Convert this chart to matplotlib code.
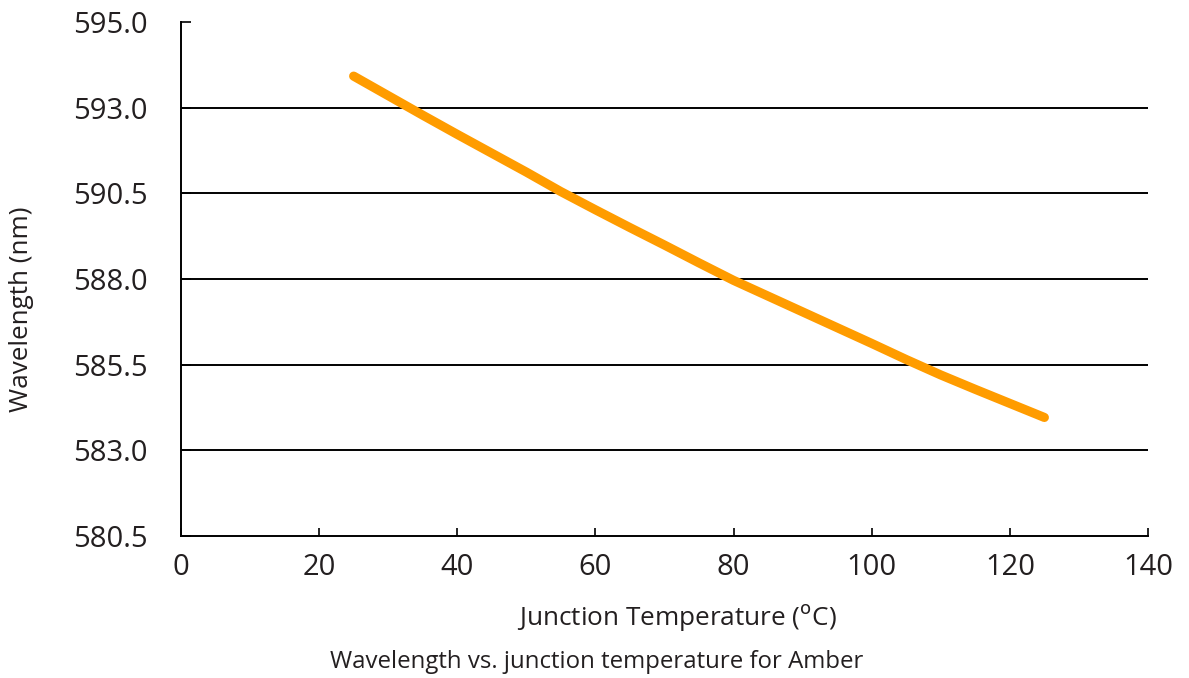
import matplotlib
matplotlib.use("Agg")
import matplotlib.pyplot as plt

# Junction temperature (°C) and dominant wavelength (nm) for the Amber LED
temperature = [25, 30, 35, 40, 45, 50, 55, 60, 65, 70, 75, 80, 85, 90, 95, 100, 105, 110, 115, 120, 125]
wavelength = [593.92, 593.35, 592.78, 592.22, 591.67, 591.12, 590.55, 590.02, 589.50, 588.99, 588.47,
              587.96, 587.50, 587.04, 586.58, 586.12, 585.65, 585.20, 584.78, 584.37, 583.96]

x_ticks = [0, 20, 40, 60, 80, 100, 120, 140]
y_ticks = [580.5, 583.0, 585.5, 588.0, 590.5, 593.0, 595.5]
y_tick_labels = ["580.5", "583.0", "585.5", "588.0", "590.5", "593.0", "595.0"]

plt.rcParams["font.family"] = ["Open Sans", "DejaVu Sans"]

fig = plt.figure(figsize=(11.89, 6.78), dpi=100)
ax = fig.add_axes([0.1522, 0.2094, 0.8133, 0.7582])

# horizontal grid lines (inner ticks only)
ax.hlines(y_ticks[1:-1], x_ticks[0], x_ticks[-1], colors="black", linewidth=1.4, zorder=1)

ax.plot(temperature, wavelength, color="#FF9C00", linewidth=6.6,
        solid_capstyle="round", solid_joinstyle="round", zorder=3)

ax.set_xlim(x_ticks[0], x_ticks[-1])
ax.set_ylim(y_ticks[0], y_ticks[-1])
ax.set_xticks(x_ticks)
ax.set_yticks(y_ticks)
ax.set_yticklabels(y_tick_labels)

for side in ("top", "right"):
    ax.spines[side].set_visible(False)
for side in ("left", "bottom"):
    ax.spines[side].set_linewidth(1.4)
    ax.spines[side].set_color("black")

ax.tick_params(axis="x", direction="in", length=6, width=1.2, pad=12,
               labelsize=21, labelcolor="#231f20")
ax.tick_params(axis="y", direction="in", length=7, width=1.2, pad=24,
               labelsize=21, labelcolor="#231f20")

fig.text(0.569, 0.089, "Junction Temperature ($^{\\mathrm{o}}$C)", ha="center", va="center",
         fontsize=18.8, color="#231f20")
fig.text(0.0185, 0.544, "Wavelength (nm)", ha="center", va="center", rotation=90,
         fontsize=18.8, color="#231f20")
fig.text(0.502, 0.024, "Wavelength vs. junction temperature for Amber", ha="center", va="center",
         fontsize=17.3, color="#231f20")

fig.savefig("out.png", dpi=100, facecolor="white")
